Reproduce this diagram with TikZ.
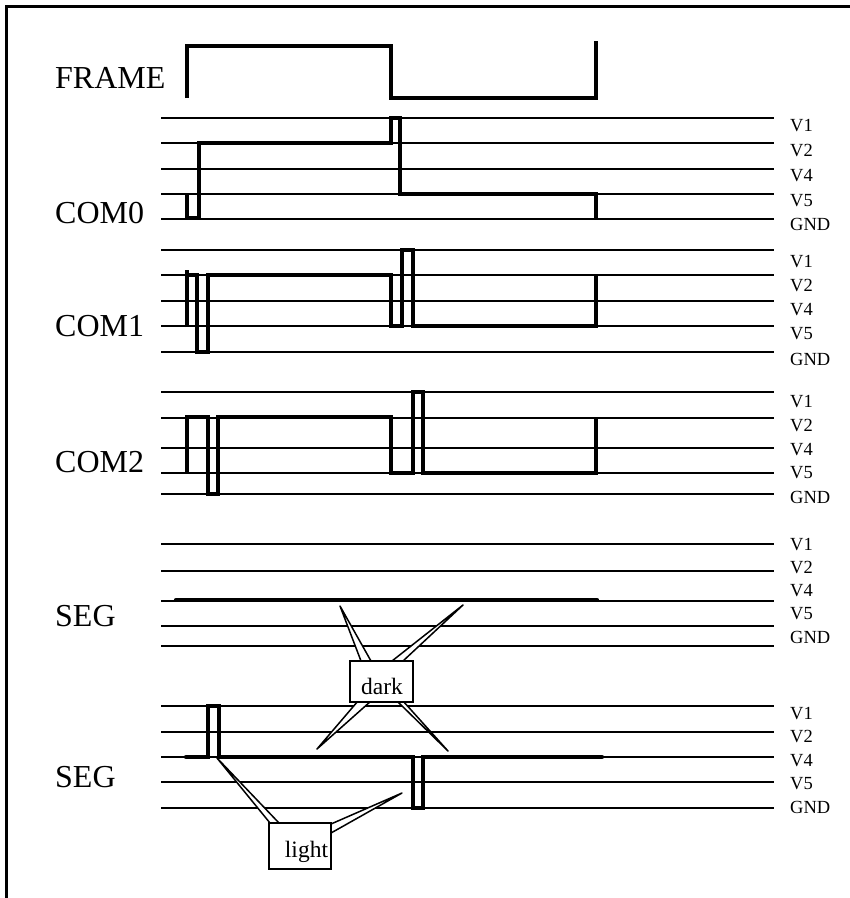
\documentclass[tikz,border=0pt]{standalone}
\usepackage{fontspec}
\setmainfont{Liberation Serif}
\tikzset{
  rail/.style={line width=1.1pt},
  wave/.style={line width=4.2pt, line join=miter},
  segwave/.style={line width=4.2pt, line join=miter, line cap=round},
  frameline/.style={line width=3pt},
  bigtxt/.style={font=\fontsize{32}{38}\selectfont, anchor=base west, inner sep=0pt},
  lvl/.style={font=\fontsize{18.5}{22}\selectfont, anchor=west, inner sep=0pt},
  wedge/.style={line width=1.5pt, fill=white, line join=round},
  cbox/.style={draw, line width=2pt, fill=white, inner sep=0pt},
  ctxt/.style={font=\fontsize{23.5}{28}\selectfont, anchor=base, inner sep=0pt}
}
\begin{document}
\begin{tikzpicture}[x=1pt,y=-1pt]
\useasboundingbox (0,0) rectangle (850,898);
% border
\draw[frameline] (5,6) -- (850,6);
\draw[frameline] (6.5,5) -- (6.5,898);
% titles
\node[bigtxt] (tframe) at (55,88) {FRAME};
\node[bigtxt] (tcom0) at (55,223) {COM0};
\node[bigtxt] (tcom1) at (55,336) {COM1};
\node[bigtxt] (tcom2) at (55,472) {COM2};
\node[bigtxt] (tseg1) at (55,626.5) {SEG};
\node[bigtxt] (tseg2) at (55,787) {SEG};
% rails and level labels
\foreach \ly/\ty/\t/\n in {118/126/V1/a1,143/151/V2/a2,169/176/V4/a3,194/201/V5/a4,219/224/GND/a5,
  250/262/V1/b1,275/286/V2/b2,301/310/V4/b3,326/334/V5/b4,352/359/GND/b5,
  392/402/V1/c1,418/426/V2/c2,448/450/V4/c3,473/473/V5/c4,494/497/GND/c5,
  544/545/V1/d1,571/568/V2/d2,601/591/V4/d3,626/614/V5/d4,646/637/GND/d5,
  706/714/V1/e1,732/737/V2/e2,757/761/V4/e3,782/784/V5/e4,808/807/GND/e5}{
  \draw[rail] (161,\ly) -- (774,\ly);
  \node[lvl] (\n) at (790,\ty) {\t};
}
% FRAME
\draw[wave] (187,98) -- (187,46) -- (391,46) -- (391,98) -- (596,98) -- (596,41);
% COM0
\draw[wave] (187,193) -- (187,218) -- (199,218) -- (199,143) -- (391,143) -- (391,118) -- (400,118) -- (400,194) -- (596,194) -- (596,219);
% COM1
\draw[wave] (187,327) -- (187,270);
\draw[wave] (187,275) -- (197,275) -- (197,352) -- (208,352) -- (208,275) -- (391,275) -- (391,326) -- (402,326) -- (402,250) -- (413,250) -- (413,326) -- (596,326) -- (596,275);
% COM2
\draw[wave] (187,473) -- (187,417) -- (208,417) -- (208,494) -- (218,494) -- (218,417) -- (391,417) -- (391,473) -- (413,473) -- (413,392) -- (423,392) -- (423,473) -- (596,473) -- (596,417);
% SEG 1
\draw[segwave] (176,600) -- (597,600);
% SEG 2
\draw[segwave] (186,757) -- (208,757) -- (208,706) -- (219,706) -- (219,757) -- (413,757) -- (413,808) -- (423,808) -- (423,757) -- (602,757);
% dark callout
\draw[wedge] (340,606) -- (361,661) -- (371,661) -- cycle;
\draw[wedge] (463,605) -- (392,661) -- (403,661) -- cycle;
\draw[wedge] (317,749) -- (358,701) -- (371,701) -- cycle;
\draw[wedge] (448,751) -- (397,701) -- (403,701) -- cycle;
\node[cbox, minimum width=63pt, minimum height=41pt] (darkbox) at (381,681) {};
\node[ctxt] (darktxt) at (382,694) {dark};
% light callout
\draw[wedge] (217,758) -- (270,823) -- (279,823) -- cycle;
\draw[wedge] (402,793) -- (331,824) -- (331,833) -- cycle;
\node[cbox, minimum width=62pt, minimum height=46pt] (lightbox) at (300,846) {};
\node[ctxt] (lighttxt) at (306.5,857) {light};
\end{tikzpicture}
\end{document}
